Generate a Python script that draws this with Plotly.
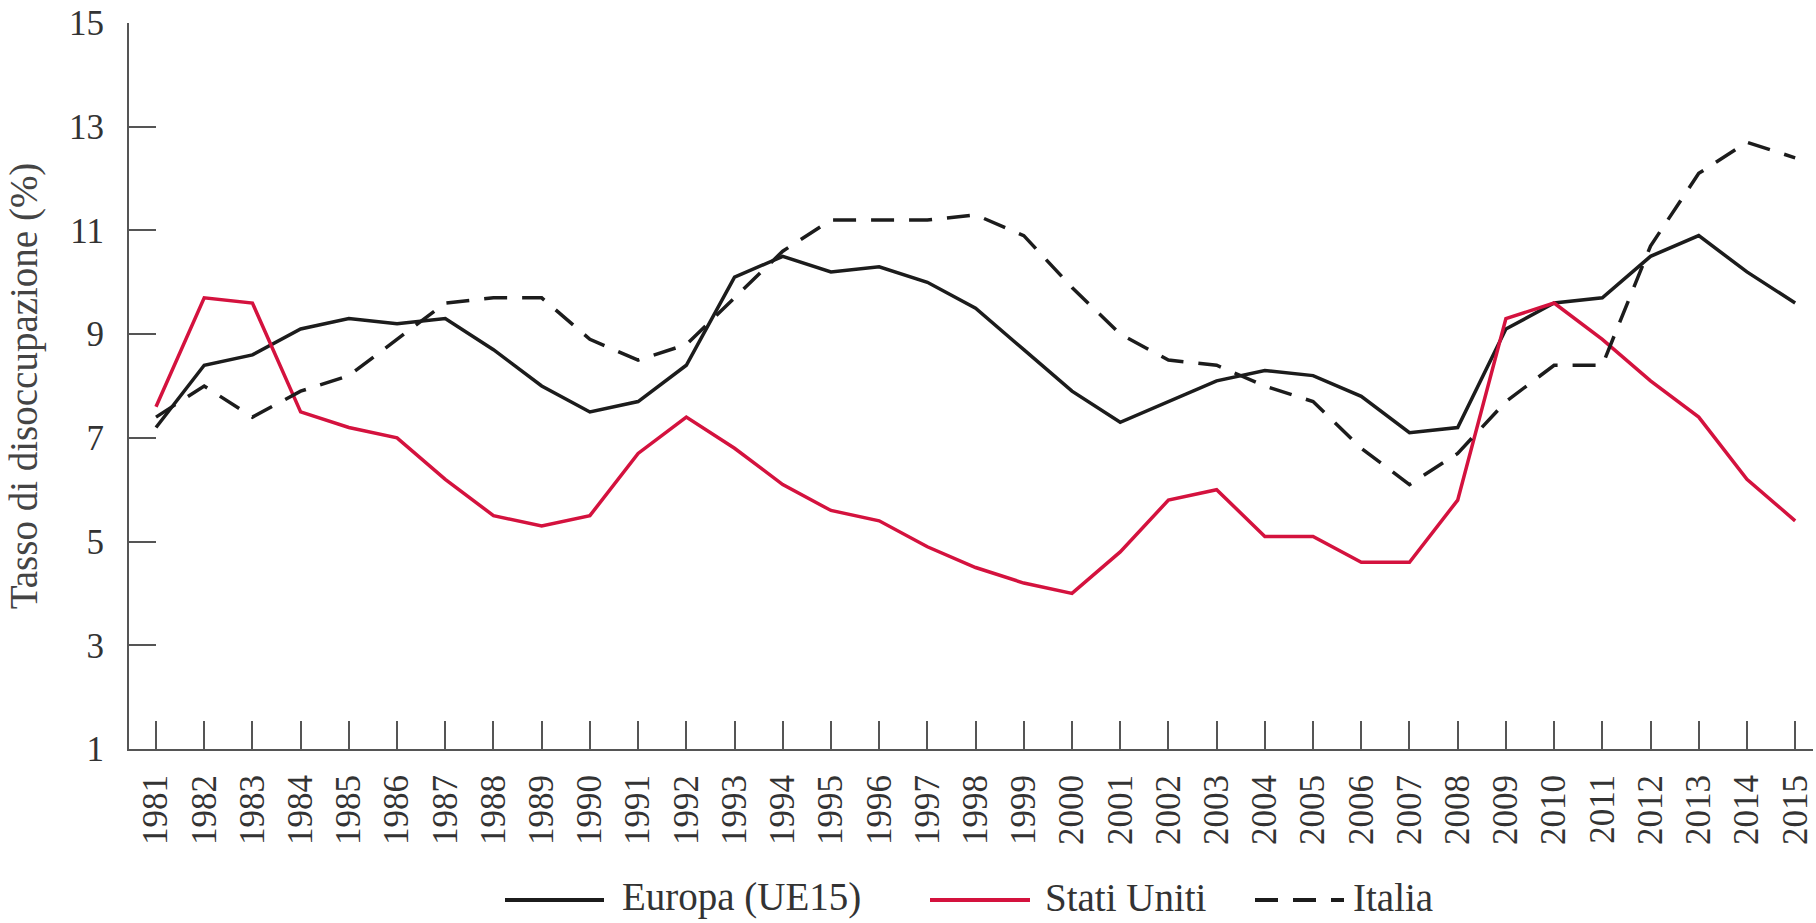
import plotly.graph_objects as go

years = list(range(1981, 2016))
europa = [7.2, 8.4, 8.6, 9.1, 9.3, 9.2, 9.3, 8.7, 8.0, 7.5,
          7.7, 8.4, 10.1, 10.5, 10.2, 10.3, 10.0, 9.5, 8.7, 7.9,
          7.3, 7.7, 8.1, 8.3, 8.2, 7.8, 7.1, 7.2, 9.1, 9.6,
          9.7, 10.5, 10.9, 10.2, 9.6]
stati_uniti = [7.6, 9.7, 9.6, 7.5, 7.2, 7.0, 6.2, 5.5, 5.3, 5.5,
               6.7, 7.4, 6.8, 6.1, 5.6, 5.4, 4.9, 4.5, 4.2, 4.0,
               4.8, 5.8, 6.0, 5.1, 5.1, 4.6, 4.6, 5.8, 9.3, 9.6,
               8.9, 8.1, 7.4, 6.2, 5.4]
italia = [7.4, 8.0, 7.4, 7.9, 8.2, 8.9, 9.6, 9.7, 9.7, 8.9,
          8.5, 8.8, 9.7, 10.6, 11.2, 11.2, 11.2, 11.3, 10.9, 9.9,
          9.0, 8.5, 8.4, 8.0, 7.7, 6.8, 6.1, 6.7, 7.7, 8.4,
          8.4, 10.7, 12.1, 12.7, 12.4]
y_ticks = [1, 3, 5, 7, 9, 11, 13, 15]
series_names = ["Europa (UE15)", "Stati Uniti", "Italia"]

FONT = "Liberation Serif"
BLACK = "#1c1c1c"
RED = "#d4123e"
DASH = "23px,15px"
styles = [dict(color=BLACK, width=3.5),
          dict(color=RED, width=3.5),
          dict(color=BLACK, width=3.5, dash=DASH)]

W, H = 1816, 923
PLOT_L, PLOT_R, PLOT_T, PLOT_B = 129, 1813, 23, 749   # page pixels
L, T = PLOT_L, PLOT_T
R, B = W - PLOT_R, H - PLOT_B
PW, PH = PLOT_R - PLOT_L, PLOT_B - PLOT_T


def px(x):
    return (x - PLOT_L) / PW


def py(y):
    return (PLOT_B - y) / PH


fig = go.Figure()
for name, vals, st in zip(series_names, [europa, stati_uniti, italia], styles):
    fig.add_trace(go.Scatter(x=years, y=vals, mode="lines", name=name,
                             line=st, showlegend=False))

# manual legend (below plot)
leg_y = 897
leg_items = [(505, 604, 620), (930, 1030, 1043), (1255, 1344, 1351)]
for (x0, x1, xt), name, st in zip(leg_items, series_names, styles):
    fig.add_shape(type="line", xref="paper", yref="paper",
                  x0=px(x0), x1=px(x1), y0=py(leg_y + 3), y1=py(leg_y + 3),
                  line=dict(color=st["color"], width=4, dash=st.get("dash", "solid")))
    fig.add_annotation(xref="paper", yref="paper", x=px(xt), y=py(leg_y),
                       xanchor="left", yanchor="middle", showarrow=False,
                       text=name, font=dict(family=FONT, size=39, color="#333333"))

fig.update_layout(
    width=W, height=H,
    margin=dict(l=L, r=R, t=T, b=B, pad=0),
    paper_bgcolor="white", plot_bgcolor="white",
    font=dict(family=FONT, size=35, color="#333333"),
    showlegend=False,
    xaxis=dict(range=[1980.44, 2015.37], tickmode="array", tickvals=years,
               ticktext=[str(y) for y in years], tickangle=-90,
               ticks="inside", ticklen=28, tickwidth=2, tickcolor="#555555",
               showline=True, linecolor="#555555", linewidth=2,
               showgrid=False, zeroline=False, ticklabelstandoff=10,
               automargin=False, ticklabeloverflow="allow",
               tickfont=dict(family=FONT, size=35, color="#333333")),
    yaxis=dict(range=[1, 15], tickmode="array", tickvals=y_ticks,
               ticks="inside", ticklen=27, tickwidth=2, tickcolor="#555555",
               showline=True, linecolor="#555555", linewidth=2,
               showgrid=False, zeroline=False, ticklabelstandoff=16,
               automargin=False, ticklabeloverflow="allow",
               tickfont=dict(family=FONT, size=35, color="#333333"),
               title=dict(text="Tasso di disoccupazione (%)", standoff=19,
                          font=dict(family=FONT, size=39, color="#444444"))),
)

fig.write_html("out.html",
               config={"displayModeBar": False},
               post_script="document.body.style.margin='0';"
                           "document.body.style.overflow='hidden';")
